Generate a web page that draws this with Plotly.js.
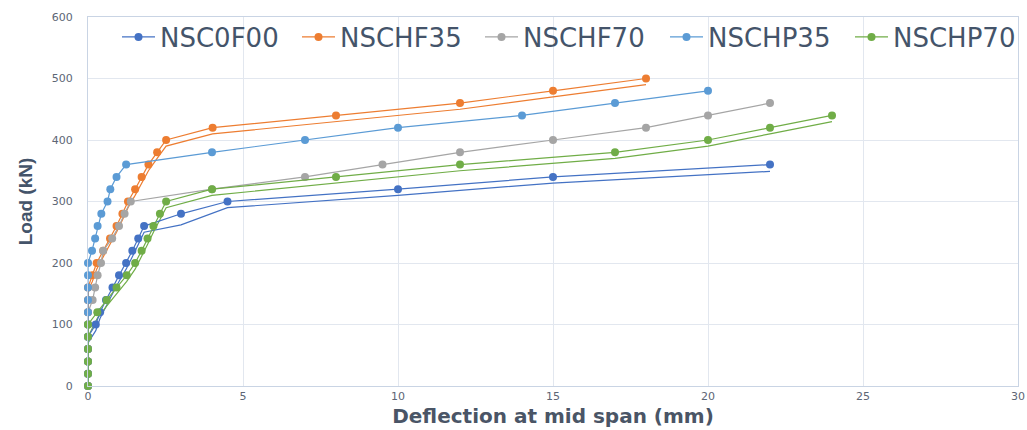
<!DOCTYPE html>
<html>
<head>
<meta charset="utf-8">
<script src="https://cdn.plot.ly/plotly-3.0.1.min.js"></script>
<style>html,body{margin:0;padding:0;background:#fff;}#chart{width:1027px;height:430px;}</style>
</head>
<body>
<div id="chart"></div>
<script>
// Series names
const seriesNames = ["NSC0F00", "NSCHF35", "NSCHF70", "NSCHP35", "NSCHP70"];

// NSC0F00 (measured points)
const nsc0f00X = [0,0,0,0,0,0.25,0.39,0.58,0.79,1.0,1.23,1.43,1.62,1.81,3.0,4.5,10,15,22];
const nsc0f00Y = [0,20,40,60,80,100,120,140,160,180,200,220,240,260,280,300,320,340,360];
// NSC0F00 companion curve
const nsc0f00bX = [0,0.25,0.39,0.58,0.79,1.0,1.23,1.43,1.62,1.81,3.0,4.5,10,15,22];
const nsc0f00bY = [70,90,110,130,150,170,190,210,230,250,262,290,310,330,349];

// NSCHF35
const nschf35X = [0,0,0,0,0,0,0,0,0,0.14,0.28,0.49,0.71,0.92,1.11,1.29,1.52,1.73,1.95,2.23,2.52,4.02,8,12,15,18];
const nschf35Y = [0,20,40,60,80,100,120,140,160,180,200,220,240,260,280,300,320,340,360,380,400,420,440,460,480,500];
const nschf35bX = [0,0,0.14,0.28,0.49,0.71,0.92,1.11,1.29,1.52,1.73,1.95,2.23,2.52,4.02,8,12,15,18];
const nschf35bY = [75,155,170,190,210,230,250,270,290,310,330,350,370,390,410,430,450,470,490];

// NSCHF70
const nschf70X = [0,0,0,0,0,0,0,0.15,0.23,0.31,0.42,0.49,0.78,1.0,1.18,1.38,4.0,7.0,9.5,12,15,18,20,22];
const nschf70Y = [0,20,40,60,80,100,120,140,160,180,200,220,240,260,280,300,320,340,360,380,400,420,440,460];

// NSCHP35
const nschp35X = [0,0,0,0,0,0,0,0,0,0,0,0.13,0.23,0.31,0.43,0.63,0.72,0.92,1.23,4.0,7.0,10,14,17,20];
const nschp35Y = [0,20,40,60,80,100,120,140,160,180,200,220,240,260,280,300,320,340,360,380,400,420,440,460,480];

// NSCHP70
const nschp70X = [0,0,0,0,0,0,0.3,0.6,0.92,1.25,1.52,1.73,1.92,2.11,2.32,2.52,4.0,8.0,12,17,20,22,24];
const nschp70Y = [0,20,40,60,80,100,120,140,160,180,200,220,240,260,280,300,320,340,360,380,400,420,440];
const nschp70bX = [0,0.3,0.6,0.92,1.25,1.52,1.73,1.92,2.11,2.32,2.52,4.0,8.0,12,17,20,22,24];
const nschp70bY = [80,110,130,150,170,190,210,230,250,270,290,310,330,350,370,390,410,430];

const xTickVals = [0,5,10,15,20,25,30];
const yTickVals = [0,100,200,300,400,500,600];

const colors = ["#4472C4", "#ED7D31", "#A5A5A5", "#5B9BD5", "#70AD47"];
const legendIds = ["legend", "legend2", "legend3", "legend4", "legend5"];

function main(i, x, y) {
  return {type:"scatter", mode:"lines+markers", name:seriesNames[i], x:x, y:y,
    legend:legendIds[i],
    line:{color:colors[i], width:1.2}, marker:{color:colors[i], size:8}, cliponaxis:false};
}
function companion(i, x, y) {
  return {type:"scatter", mode:"lines", name:seriesNames[i], x:x, y:y, showlegend:false,
    line:{color:colors[i], width:1.2}, hoverinfo:"skip"};
}

const data = [
  companion(0, nsc0f00bX, nsc0f00bY),
  companion(1, nschf35bX, nschf35bY),
  companion(4, nschp70bX, nschp70bY),
  main(0, nsc0f00X, nsc0f00Y),
  main(1, nschf35X, nschf35Y),
  main(2, nschf70X, nschf70Y),
  main(3, nschp35X, nschp35Y),
  main(4, nschp70X, nschp70Y)
];

const tickFont = {family:"DejaVu Sans", size:11, color:"#5d6675"};
const legendLefts = [117, 297, 480, 665, 850];
const layout = {
  width:1027, height:430,
  margin:{l:88, r:9, t:17, b:44, autoexpand:false},
  paper_bgcolor:"#ffffff", plot_bgcolor:"#ffffff",
  showlegend:true,
  xaxis:{range:[0,30], tickvals:xTickVals, ticktext:xTickVals.map(String),
    showgrid:true, gridcolor:"#e2e7ef", gridwidth:1, zeroline:false,
    showline:true, linecolor:"#c9d4e4", linewidth:1, mirror:true, ticks:"",
    tickfont:tickFont,
    title:{text:"Deflection at mid span (mm)", standoff:6,
      font:{family:"DejaVu Sans", size:20, color:"#4a5566", weight:"bold"}}},
  yaxis:{range:[0,600], tickvals:yTickVals, ticktext:yTickVals.map(String),
    showgrid:true, gridcolor:"#e2e7ef", gridwidth:1, zeroline:false,
    showline:true, linecolor:"#c9d4e4", linewidth:1, mirror:true, ticks:"",
    ticklabelstandoff:12, tickfont:tickFont,
    title:{text:"Load (kN)", standoff:14,
      font:{family:"Liberation Sans", size:19, color:"#44546A", weight:"bold"}}}
};
legendIds.forEach(function(id, i) {
  layout[id] = {orientation:"h", xref:"container", yref:"container",
    x:legendLefts[i]/1027, xanchor:"left", y:1 - 37/430, yanchor:"middle",
    bgcolor:"rgba(0,0,0,0)", borderwidth:0, itemwidth:33,
    font:{family:"DejaVu Sans", size:26, color:"#44546A"}};
});

Plotly.newPlot("chart", data, layout, {displayModeBar:false, staticPlot:true});
</script>
</body>
</html>
